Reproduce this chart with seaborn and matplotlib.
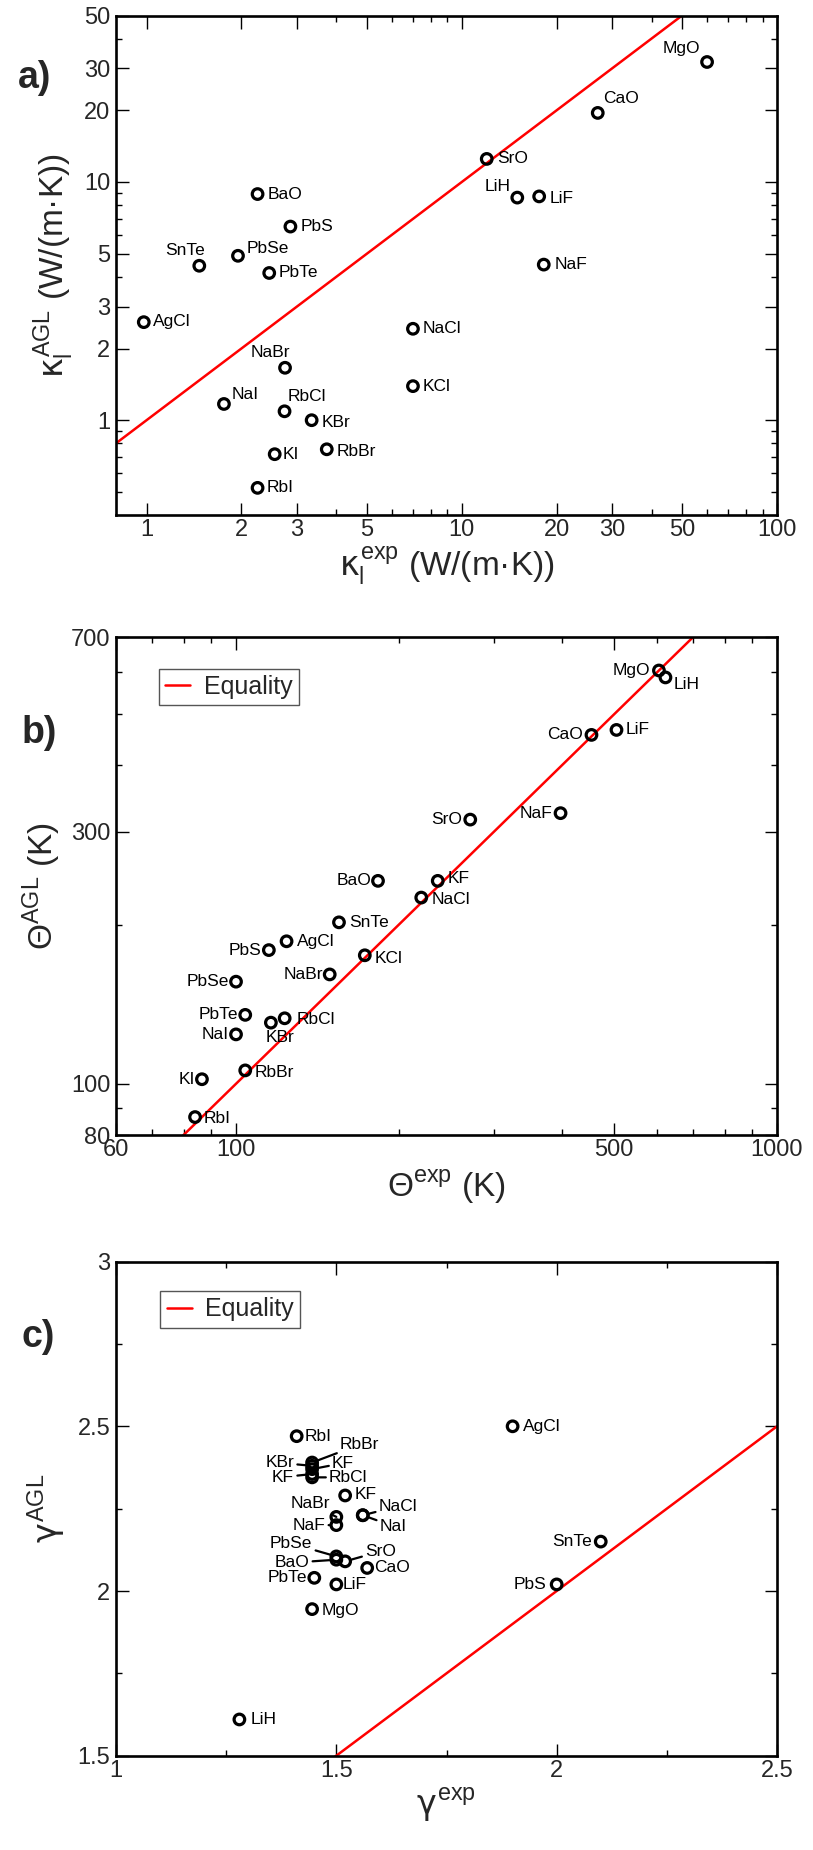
import numpy as np
import pandas as pd
import seaborn as sns
import matplotlib
matplotlib.use("Agg")
import matplotlib.pyplot as plt
from matplotlib.ticker import FixedLocator, FixedFormatter, NullFormatter

########## data ##########
# a) lattice thermal conductivity W/(m K)
names_a = ["MgO", "CaO", "SrO", "LiH", "LiF", "NaF", "BaO", "PbS", "PbSe", "SnTe", "PbTe",
           "AgCl", "NaCl", "NaBr", "KCl", "NaI", "RbCl", "KBr", "KI", "RbBr", "RbI"]
kappa_exp = [60, 27, 12, 15, 17.6, 18.2, 2.25, 2.86, 1.95, 1.47, 2.45,
             0.98, 7.0, 2.75, 7.0, 1.76, 2.74, 3.34, 2.55, 3.73, 2.25]
kappa_agl = [31.9, 19.5, 12.5, 8.6, 8.7, 4.5, 8.9, 6.5, 4.9, 4.45, 4.15,
             2.58, 2.42, 1.66, 1.39, 1.17, 1.09, 1.0, 0.72, 0.755, 0.52]

# b) Debye temperature (K)
names_b = ["MgO", "LiH", "CaO", "LiF", "NaF", "SrO", "BaO", "KF", "NaCl", "SnTe", "AgCl",
           "PbS", "KCl", "NaBr", "PbSe", "PbTe", "KBr", "RbCl", "NaI", "RbBr", "KI", "RbI"]
theta_exp = [605, 622, 454, 505, 398, 271, 183, 236, 220, 155, 124,
             115, 173, 149, 100, 104, 116, 123, 100, 104, 86.5, 84]
theta_agl = [605, 587, 457, 467, 325, 316, 242, 242, 225, 202, 186,
             179, 175, 161, 156, 135, 130.5, 133, 124, 106, 102, 86.5]

# c) Gruneisen parameter
names_c = ["AgCl", "SnTe", "PbS", "LiH", "RbI", "RbBr", "KBr", "KF", "KF", "RbCl", "KF",
           "NaBr", "NaF", "NaCl", "NaI", "PbSe", "BaO", "SrO", "CaO", "PbTe", "LiF", "MgO"]
gamma_exp = [1.90, 2.10, 2.00, 1.28, 1.41, 1.445, 1.445, 1.445, 1.445, 1.445, 1.52,
             1.50, 1.50, 1.56, 1.56, 1.50, 1.50, 1.52, 1.57, 1.45, 1.50, 1.445]
gamma_agl = [2.50, 2.15, 2.02, 1.61, 2.47, 2.39, 2.38, 2.37, 2.355, 2.345, 2.29,
             2.225, 2.20, 2.23, 2.23, 2.105, 2.095, 2.09, 2.07, 2.04, 2.02, 1.945]

# ticks
xt_a = [1, 2, 3, 5, 10, 20, 30, 50, 100]
xt_a_minor = [4, 6, 7, 8, 9, 40, 60, 70, 80, 90]
yt_a = [1, 2, 3, 5, 10, 20, 30, 50]
yt_a_minor = [0.5, 0.6, 0.7, 0.8, 0.9, 4, 6, 7, 8, 9, 40]
xt_b = [60, 100, 500, 1000]
xt_b_minor = [70, 80, 90, 200, 300, 400, 600, 700, 800, 900]
yt_b = [80, 100, 300, 700]
yt_b_minor = [90, 200, 400, 500, 600]
xt_c = [1, 1.5, 2, 2.5]
xt_c_minor = [1.25, 1.75, 2.25]
yt_c = [1.5, 2, 2.5, 3]
yt_c_minor = [1.75, 2.25, 2.75]

########## label offsets (pixels: dx, dy up, ha, leader line) ##########
offs_a = [(-7, 13, "right", 0), (5, 14, "left", 0), (10, 0, "left", 0), (-7, 11, "right", 0),
          (10, -2, "left", 0), (11, 0, "left", 0), (10, 0, "left", 0), (10, 0, "left", 0),
          (9, 7, "left", 0), (-14, 15, "center", 0), (9, 0, "left", 0), (9, 1, "left", 0),
          (10, 0, "left", 0), (-15, 15, "center", 0), (10, 0, "left", 0), (8, 9, "left", 0),
          (3, 15, "left", 0), (10, -2, "left", 0), (8, 0, "left", 0), (10, -2, "left", 0),
          (9, 0, "left", 0)]
offs_b = [(-9, 0, "right", 0), (8, -7, "left", 0), (-9, 0, "right", 0), (9, 0, "left", 0),
          (-8, 0, "right", 0), (-8, 0, "right", 0), (-7, 0, "right", 0), (10, 2, "left", 0),
          (10, -2, "left", 0), (10, 0, "left", 0), (10, 0, "left", 0), (-7, 0, "right", 0),
          (10, -3, "left", 0), (-7, 0, "right", 0), (-7, 0, "right", 0), (-7, 0, "right", 0),
          (9, -15, "center", 0), (12, -1, "left", 0), (-7, 0, "right", 0), (9, -2, "left", 0),
          (-7, 0, "right", 0), (9, -1, "left", 0)]
offs_c = [(10, 0, "left", 0), (-9, 0, "right", 0), (-10, 0, "right", 0), (11, 0, "left", 0),
          (8, 0, "left", 0), (28, 18, "left", 1), (-18, 3, "right", 1), (20, 6, "left", 1),
          (-18, -3, "right", 1), (17, 0, "left", 1), (9, 1, "left", 0), (-6, 13, "right", 1),
          (-11, 0, "right", 1), (16, 9, "left", 1), (17, -11, "left", 1), (-24, 13, "right", 1),
          (-27, -3, "right", 1), (20, 10, "left", 1), (7, 0, "left", 0), (-7, 0, "right", 0),
          (6, 0, "left", 0), (10, -1, "left", 0)]

########## style ##########
sns.set_theme(style="white")
plt.rcParams['font.family'] = ['Liberation Sans', 'DejaVu Sans']
plt.rcParams['mathtext.fontset'] = 'custom'
plt.rcParams['mathtext.rm'] = 'Liberation Sans'
plt.rcParams['mathtext.it'] = 'DejaVu Sans'
plt.rcParams['mathtext.bf'] = 'Liberation Sans:bold'
plt.rcParams['axes.edgecolor'] = 'black'
plt.rcParams['axes.linewidth'] = 1.9

W, H = 813, 1850
fig = plt.figure(figsize=(W / 100, H / 100), dpi=100)


def px_axes(top, bottom, left=116, right=777):
    return fig.add_axes([left / W, 1 - bottom / H, (right - left) / W, (bottom - top) / H])


def set_ticks(ax, xmaj, xmin, ymaj, ymin):
    ax.xaxis.set_major_locator(FixedLocator(xmaj))
    ax.xaxis.set_major_formatter(FixedFormatter([f"{v:g}" for v in xmaj]))
    ax.xaxis.set_minor_locator(FixedLocator(xmin))
    ax.xaxis.set_minor_formatter(NullFormatter())
    ax.yaxis.set_major_locator(FixedLocator(ymaj))
    ax.yaxis.set_major_formatter(FixedFormatter([f"{v:g}" for v in ymaj]))
    ax.yaxis.set_minor_locator(FixedLocator(ymin))
    ax.yaxis.set_minor_formatter(NullFormatter())
    ax.tick_params(which='both', direction='in', top=True, right=True,
                   bottom=True, left=True, color='black')
    ax.tick_params(which='major', length=9, width=1.0, labelsize=17)
    ax.tick_params(which='minor', length=4.5, width=1.0)
    ax.tick_params(axis='x', which='major', pad=3)
    ax.tick_params(axis='y', which='major', pad=4)


def put_labels(ax, xs, ys, names, offs):
    for x, y, n, (dx, dy, ha, lead) in zip(xs, ys, names, offs):
        kw = {}
        if lead:
            kw['arrowprops'] = dict(arrowstyle='-', color='black', lw=1.6,
                                    shrinkA=0, shrinkB=5)
        ax.annotate(n, (x, y), xytext=(dx * 0.72, dy * 0.72), textcoords='offset points',
                    ha=ha, va='center', fontsize=12.5, color='black', zorder=5, **kw)


def panel(ax, xs, ys, names, offs, log):
    df = pd.DataFrame({'x': xs, 'y': ys, 'name': names})
    if log:
        ax.set_xscale('log')
        ax.set_yscale('log')
    eq = np.array(ax.get_xlim())
    sns.lineplot(x=eq, y=eq, ax=ax, color='red', linewidth=1.8, label='Equality', zorder=2)
    sns.scatterplot(data=df, x='x', y='y', ax=ax, marker='o', s=58, facecolor='none',
                    edgecolor='black', linewidth=2.3, zorder=4)
    put_labels(ax, xs, ys, names, offs)
    if ax.get_legend() is not None:
        ax.get_legend().remove()


def add_legend(ax, anchor):
    leg = ax.legend(handles=[ax.get_lines()[0]], labels=['Equality'], loc='upper left',
                    bbox_to_anchor=anchor, frameon=True, fancybox=False, framealpha=1,
                    edgecolor='#555555', fontsize=18, handlelength=1.0, handletextpad=0.55,
                    borderpad=0.25, borderaxespad=0)
    leg.get_frame().set_linewidth(1.0)


########## a) ##########
ax_a = px_axes(15.5, 515)
ax_a.set_xscale('log')
ax_a.set_yscale('log')
ax_a.set_xlim(0.8, 100)
ax_a.set_ylim(0.4, 50)
panel(ax_a, kappa_exp, kappa_agl, names_a, offs_a, True)
ax_a.set_xlim(0.8, 100)
ax_a.set_ylim(0.4, 50)
set_ticks(ax_a, xt_a, xt_a_minor, yt_a, yt_a_minor)
ax_a.set_xlabel(r'$\kappa_{\mathrm{l}}^{\mathrm{exp}}$ (W/(m·K))', fontsize=24)
ax_a.set_ylabel(r'$\kappa_{\mathrm{l}}^{\mathrm{AGL}}$ (W/(m·K))', fontsize=24)
ax_a.xaxis.set_label_coords(0.5, -0.060)
ax_a.yaxis.set_label_coords(-0.061, 0.5)

########## b) ##########
ax_b = px_axes(637, 1135)
ax_b.set_xscale('log')
ax_b.set_yscale('log')
ax_b.set_xlim(60, 1000)
ax_b.set_ylim(80, 700)
panel(ax_b, theta_exp, theta_agl, names_b, offs_b, True)
ax_b.set_xlim(60, 1000)
ax_b.set_ylim(80, 700)
set_ticks(ax_b, xt_b, xt_b_minor, yt_b, yt_b_minor)
ax_b.set_xlabel(r'$\Theta^{\mathrm{exp}}$ (K)', fontsize=24)
ax_b.set_ylabel(r'$\Theta^{\mathrm{AGL}}$ (K)', fontsize=24)
ax_b.xaxis.set_label_coords(0.5, -0.066)
ax_b.yaxis.set_label_coords(-0.080, 0.5)
add_legend(ax_b, (0.065, 0.936))

########## c) ##########
ax_c = px_axes(1261.6, 1755.7)
ax_c.set_xlim(1, 2.5)
ax_c.set_ylim(1.5, 3)
panel(ax_c, gamma_exp, gamma_agl, names_c, offs_c, False)
ax_c.set_xlim(1, 2.5)
ax_c.set_ylim(1.5, 3)
set_ticks(ax_c, xt_c, xt_c_minor, yt_c, yt_c_minor)
ax_c.set_xlabel(r'$\gamma^{\mathrm{exp}}$', fontsize=24)
ax_c.set_ylabel(r'$\gamma^{\mathrm{AGL}}$', fontsize=24)
ax_c.xaxis.set_label_coords(0.5, -0.061)
ax_c.yaxis.set_label_coords(-0.073, 0.5)
add_legend(ax_c, (0.067, 0.940))

for t, (px, py) in zip(["a)", "b)", "c)"], [(35, 78), (39, 733), (38, 1337)]):
    fig.text(px / W, 1 - py / H, t, fontsize=27, fontweight='bold', ha='center', va='center')

fig.savefig('out.png', dpi=100)
